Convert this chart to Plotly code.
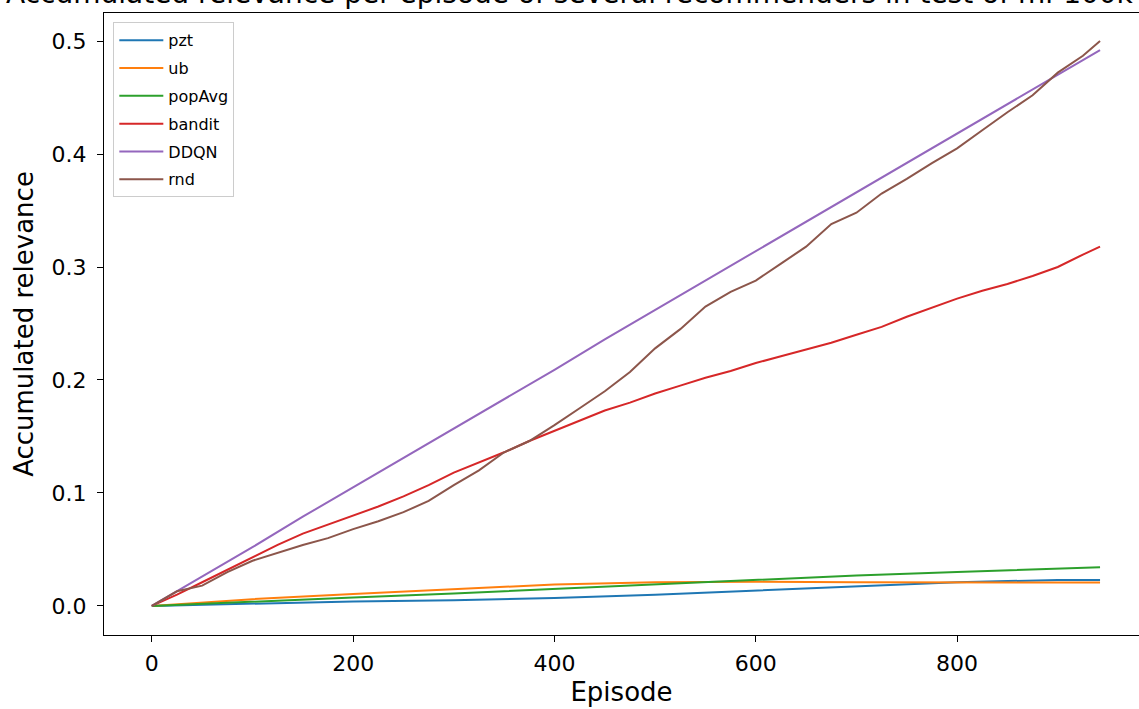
import plotly.graph_objects as go

# ---------------- data ----------------
ep_coarse = [0, 100, 200, 300, 400, 500, 600, 700, 800, 900, 942]
pzt = [0, 0.002, 0.004, 0.005, 0.007, 0.010, 0.0135, 0.017, 0.021, 0.023, 0.023]
ub = [0, 0.006, 0.0105, 0.0145, 0.019, 0.021, 0.0215, 0.021, 0.021, 0.021, 0.0208]
popAvg = [0, 0.004, 0.0075, 0.011, 0.015, 0.0195, 0.0235, 0.027, 0.030, 0.033, 0.0342]

ep_mid = [0, 50, 100, 150, 200, 250, 300, 350, 400, 450, 500, 550, 600, 650,
          700, 750, 800, 850, 900, 942]
ddqn = [0, 0.026, 0.052, 0.079, 0.105, 0.131, 0.157, 0.183, 0.209, 0.236,
        0.262, 0.288, 0.314, 0.340, 0.366, 0.392, 0.418, 0.444, 0.470, 0.492]

ep_fine = [0, 25, 50, 75, 100, 125, 150, 175, 200, 225, 250, 275, 300, 325,
           350, 375, 400, 425, 450, 475, 500, 525, 550, 575, 600, 625, 650,
           675, 700, 725, 750, 775, 800, 825, 850, 875, 900, 925, 942]
bandit = [0, 0.010, 0.021, 0.032, 0.043, 0.054, 0.064, 0.072, 0.080, 0.088,
          0.097, 0.107, 0.118, 0.127, 0.136, 0.146, 0.155, 0.164, 0.173,
          0.180, 0.188, 0.195, 0.202, 0.208, 0.215, 0.221, 0.227, 0.233,
          0.240, 0.247, 0.256, 0.264, 0.272, 0.279, 0.285, 0.292, 0.300,
          0.311, 0.318]
rnd = [0, 0.013, 0.018, 0.030, 0.040, 0.047, 0.054, 0.060, 0.068, 0.075,
       0.083, 0.093, 0.107, 0.120, 0.136, 0.146, 0.160, 0.175, 0.190, 0.207,
       0.228, 0.245, 0.265, 0.278, 0.288, 0.303, 0.318, 0.338, 0.348, 0.365,
       0.378, 0.392, 0.405, 0.421, 0.437, 0.452, 0.472, 0.487, 0.500]

series = [
    ("pzt", ep_coarse, pzt, "#1f77b4"),
    ("ub", ep_coarse, ub, "#ff7f0e"),
    ("popAvg", ep_coarse, popAvg, "#2ca02c"),
    ("bandit", ep_fine, bandit, "#d62728"),
    ("DDQN", ep_mid, ddqn, "#9467bd"),
    ("rnd", ep_fine, rnd, "#8c564b"),
]

title_text = "Accumulated relevance per episode of several recommenders in test of ml-100k"

FONT = "DejaVu Sans"

fig = go.Figure()
for name, xs, ys, col in series:
    fig.add_trace(go.Scatter(x=xs, y=ys, mode="lines", name=name,
                             legendgroup=name,
                             line=dict(color=col, width=2)))

fig.update_layout(
    width=1139, height=709, autosize=False,
    margin=dict(l=104, r=0, t=13, b=74, pad=0),
    paper_bgcolor="white", plot_bgcolor="white",
    font=dict(family=FONT, color="black"),
    showlegend=True,
    legend=dict(x=0.009, y=0.985, xanchor="left", yanchor="top",
                bgcolor="rgba(255,255,255,0.8)", bordercolor="#cccccc",
                borderwidth=1, font=dict(size=16, family=FONT),
                tracegroupgap=4, itemwidth=44),
    annotations=[dict(text=title_text, xref="paper", yref="paper",
                      x=0.450, y=1, xanchor="center", yanchor="bottom",
                      yshift=1, showarrow=False,
                      font=dict(size=28, family=FONT, color="black"))],
)
fig.update_xaxes(range=[-47.5, 980.7], tickvals=[0, 200, 400, 600, 800],
                 ticks="outside", ticklen=6, tickwidth=1.2, tickcolor="black",
                 showline=True, linecolor="black", linewidth=1.2, mirror=True,
                 showgrid=False, zeroline=False, ticklabelstandoff=2,
                 tickfont=dict(size=22, family=FONT),
                 title=dict(text="Episode", font=dict(size=26, family=FONT), standoff=8))
fig.update_yaxes(range=[-0.0257, 0.5248], tickvals=[0, 0.1, 0.2, 0.3, 0.4, 0.5],
                 ticktext=["0.0", "0.1", "0.2", "0.3", "0.4", "0.5"],
                 ticks="outside", ticklen=6, tickwidth=1.2, tickcolor="black",
                 showline=True, linecolor="black", linewidth=1.2, mirror=False,
                 showgrid=False, zeroline=False, ticklabelstandoff=6,
                 tickfont=dict(size=22, family=FONT),
                 title=dict(text="Accumulated relevance", font=dict(size=26, family=FONT), standoff=10))

fig.write_html("out.html")
